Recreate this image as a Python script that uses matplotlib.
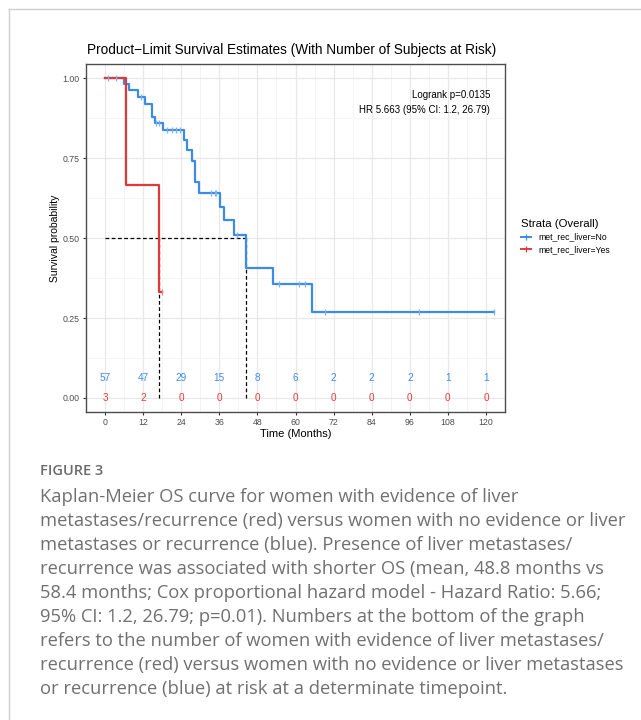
import matplotlib
matplotlib.use("Agg")
import matplotlib.pyplot as plt
from matplotlib.lines import Line2D
import numpy as np

# Kaplan-Meier steps
no_times = [0, 6.0, 7.6, 10.3, 12.6, 14.8, 15.7, 18.3, 24.8, 25.9, 27.4, 28.3,
            29.6, 36.3, 37.5, 40.5, 44.3, 52.9, 65.2]
no_surv = [1.0, 0.982, 0.963, 0.942, 0.921, 0.880, 0.861, 0.839, 0.808, 0.776,
           0.743, 0.675, 0.640, 0.599, 0.556, 0.511, 0.408, 0.357, 0.268]
no_censor = [0.8, 3.5, 11.3, 16.2, 17.0, 19.5, 21.1, 22.4, 23.7, 33.5, 34.6,
             35.1, 41.5, 54.7, 61.0, 63.1, 69.4, 99.0, 122.5]

yes_times = [0, 6.5, 17.1]
yes_surv = [1.0, 0.667, 0.333]
yes_censor = [17.8]

risk_times = [0, 12, 24, 36, 48, 60, 72, 84, 96, 108, 120]
risk_no = [57, 47, 29, 15, 8, 6, 2, 2, 2, 1, 1]
risk_yes = [3, 2, 0, 0, 0, 0, 0, 0, 0, 0, 0]

BLUE = "#3C8BE6"
RED = "#DD3B3B"

caption_lines = [
    "Kaplan-Meier OS curve for women with evidence of liver",
    "metastases/recurrence (red) versus women with no evidence or liver",
    "metastases or recurrence (blue). Presence of liver metastases/",
    "recurrence was associated with shorter OS (mean, 48.8 months vs",
    "58.4 months; Cox proportional hazard model - Hazard Ratio: 5.66;",
    "95% CI: 1.2, 26.79; p=0.01). Numbers at the bottom of the graph",
    "refers to the number of women with evidence of liver metastases/",
    "recurrence (red) versus women with no evidence or liver metastases",
    "or recurrence (blue) at risk at a determinate timepoint.",
]

plt.rcParams["font.family"] = ["Liberation Sans", "DejaVu Sans"]

W, H = 641, 720
fig = plt.figure(figsize=(W / 100, H / 100), dpi=100)
fig.patch.set_facecolor("white")

# outer frame of the figure box
fig.add_artist(Line2D([9 / W, 9 / W], [0, 1 - 9 / H], color="#cfcfcf", lw=1))
fig.add_artist(Line2D([9 / W, 1], [1 - 9 / H, 1 - 9 / H], color="#cfcfcf", lw=1))

ax = fig.add_axes([86 / W, 1 - 412 / H, (505 - 86) / W, (412 - 64) / H])
ax.set_xlim(-6, 126)
ax.set_ylim(-0.044, 1.045)
ax.set_xticks(risk_times)
ax.set_xticks(np.arange(6, 120, 12), minor=True)
ax.set_yticks([0, 0.25, 0.5, 0.75, 1.0])
ax.set_yticks([0.125, 0.375, 0.625, 0.875], minor=True)
ax.set_yticklabels(["0.00", "0.25", "0.50", "0.75", "1.00"])
ax.grid(which="major", color="#e8e8e8", lw=0.9)
ax.grid(which="minor", color="#f3f3f3", lw=0.6)
ax.set_axisbelow(True)
for s in ax.spines.values():
    s.set_color("#4d4d4d")
    s.set_linewidth(1.0)
ax.tick_params(which="major", labelsize=6.3, length=2.5, color="#333333",
               labelcolor="#4d4d4d", pad=2)
ax.tick_params(which="minor", length=0)
ax.set_xlabel("Time (Months)", fontsize=8, labelpad=1.5)
ax.set_ylabel("Survival probability", fontsize=7.5, labelpad=2)
ax.set_title("Product\u2212Limit Survival Estimates (With Number of Subjects at Risk)",
             fontsize=9.8, pad=7, x=0.49)


def km_line(times, surv, censor):
    end = max(max(censor), times[-1])
    x = list(times) + [end]
    y = list(surv) + [surv[-1]]
    return x, y


def median_time(times, surv):
    for t, s in zip(times, surv):
        if s <= 0.5:
            return t
    return None


xb, yb = km_line(no_times, no_surv, no_censor)
xr, yr = km_line(yes_times, yes_surv, yes_censor)
ax.step(xb, yb, where="post", color=BLUE, lw=1.6, zorder=3)
ax.step(xr, yr, where="post", color=RED, lw=1.6, zorder=3)

cb = [no_surv[np.searchsorted(no_times, t, side="right") - 1] for t in no_censor]
cr = [yes_surv[np.searchsorted(yes_times, t, side="right") - 1] for t in yes_censor]
ax.plot(no_censor, cb, ls="none", marker="|", ms=5, mew=0.9, color="#7fb2ee", zorder=4)
ax.plot(yes_censor, cr, ls="none", marker="|", ms=5, mew=0.9, color="#e98080", zorder=4)

# median survival guide lines
med_no = median_time(no_times, no_surv)
med_yes = median_time(yes_times, yes_surv)
ax.plot([0, max(med_no, med_yes)], [0.5, 0.5], ls=(0, (3, 2)), color="black", lw=0.9, zorder=2)
for m in (med_no, med_yes):
    ax.plot([m, m], [0, 0.5], ls=(0, (3, 2)), color="black", lw=0.9, zorder=2)

# numbers at risk
for t, n in zip(risk_times, risk_no):
    ax.text(t, 0.063, str(n), color=BLUE, fontsize=7.2, ha="center", va="center", zorder=5)
for t, n in zip(risk_times, risk_yes):
    ax.text(t, 0.0, str(n), color=RED, fontsize=7.2, ha="center", va="center", zorder=5)

ax.text(0.964, 0.911, "Logrank p=0.0135", transform=ax.transAxes, ha="right",
        va="center", fontsize=7)
ax.text(0.964, 0.868, "HR 5.663 (95% CI: 1.2, 26.79)", transform=ax.transAxes,
        ha="right", va="center", fontsize=7)

handles = [
    Line2D([], [], color=BLUE, lw=1.4, marker="|", ms=5, mew=0.9),
    Line2D([], [], color=RED, lw=1.4, marker="|", ms=5, mew=0.9),
]
leg = fig.legend(handles, ["met_rec_liver=No", "met_rec_liver=Yes"],
                 title="Strata (Overall)", loc="upper left",
                 bbox_to_anchor=(513 / W, 1 - 211 / H), frameon=False,
                 fontsize=6.2, title_fontsize=8.2, alignment="left",
                 handlelength=1.2, handletextpad=0.8, labelspacing=0.45)

# caption below the chart
fig.text(40 / W, 1 - 471 / H, "FIGURE 3", fontsize=10.5, color="#6b6b6b",
         family=["Open Sans", "DejaVu Sans"], weight="semibold", va="center")
for i, line in enumerate(caption_lines):
    fig.text(40 / W, 1 - (497 + 24 * i) / H, line, fontsize=13.2, color="#707070",
             family=["Open Sans", "DejaVu Sans"], va="center")

fig.savefig("out.png", dpi=100, facecolor="white")
